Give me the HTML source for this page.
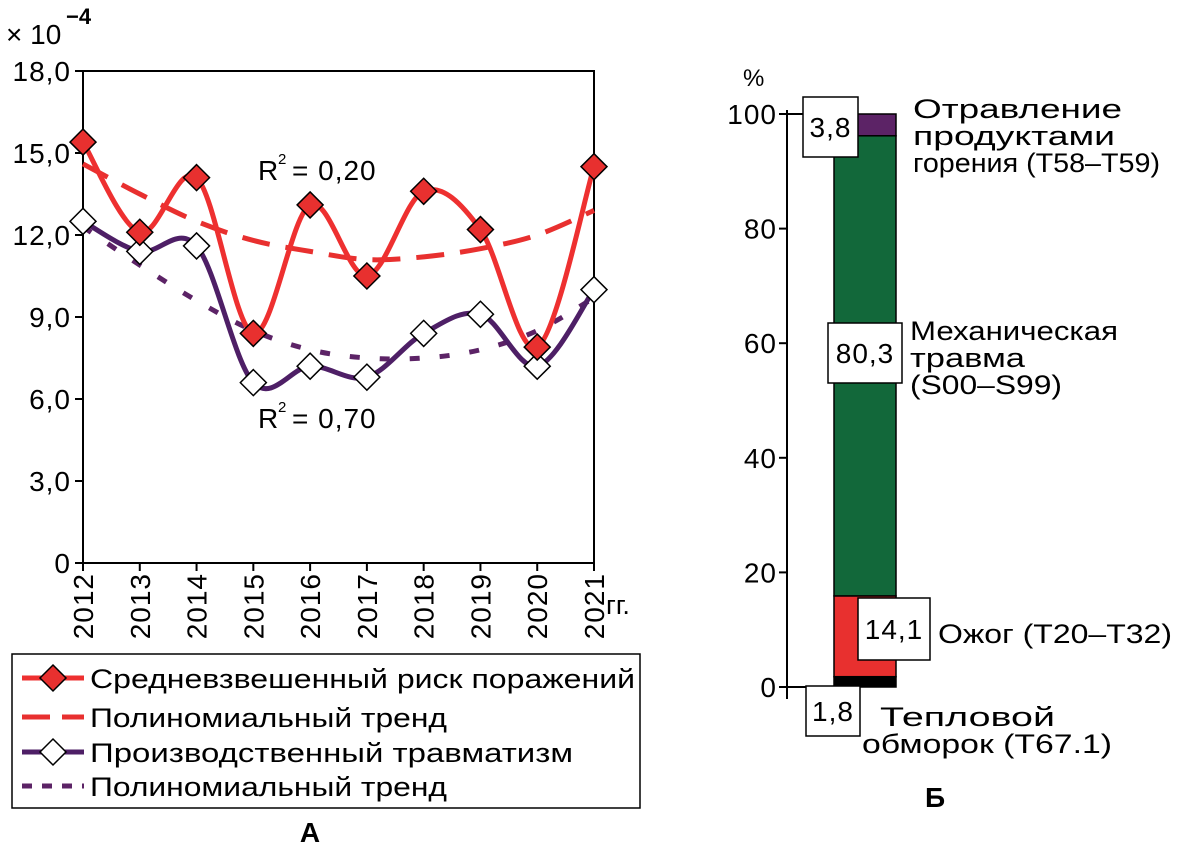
<!DOCTYPE html>
<html><head><meta charset="utf-8"><style>
body{margin:0;background:#fff;}
svg{font-family:"Liberation Sans",Arial,sans-serif;}
</style></head><body>
<svg width="1182" height="852" viewBox="0 0 1182 852">
<g id="left"></g>
<g id="right"></g>
</svg>
<script>
const years=["2012","2013","2014","2015","2016","2017","2018","2019","2020","2021"];
const riskValues=[15.4,12.1,14.1,8.4,13.1,10.5,13.6,12.2,7.9,14.5];
const riskTrend=[14.6,13.5,12.5,11.8,11.4,11.1,11.2,11.5,12.0,12.9];
const injuryValues=[12.5,11.4,11.6,6.6,7.2,6.8,8.4,9.1,7.2,10.0];
const injuryTrend=[12.3,10.9,9.6,8.5,7.8,7.5,7.5,7.8,8.5,9.7];
const yTicks=[0,3,6,9,12,15,18];
const yTickLabels=["0","3,0","6,0","9,0","12,0","15,0","18,0"];
const barShares=[1.8,14.1,80.3,3.8];
const barColors=["#000000","#e8302f","#12683a","#5c2366"];
const barTicks=[0,20,40,60,80,100];

const NS="http://www.w3.org/2000/svg";
function mk(parent,tag,attrs,text){const e=document.createElementNS(NS,tag);for(const k in attrs)e.setAttribute(k,attrs[k]);if(text!==undefined)e.textContent=text;parent.appendChild(e);return e;}

const L=document.getElementById('left');
const x0=83,x1=594,yb=563,yt=71;
const X=i=>x0+(x1-x0)*i/(years.length-1);
const Y=v=>yb-(yb-yt)*v/18;
let e=mk(L,'rect',{x:x0,y:yt,width:x1-x0,height:yb-yt,fill:'none',stroke:'#000','stroke-width':2});

yTicks.forEach((t,i)=>{
 let l=mk(L,'line',{x1:x0-8,x2:x0,y1:Y(t),y2:Y(t),stroke:'#000','stroke-width':2});
 
 let tx=mk(L,'text',{x:x0-12,y:Y(t)+10,'font-size':28,'letter-spacing':1,'text-anchor':'end'},yTickLabels[i]);
 
});
years.forEach((yr,i)=>{
 let l=mk(L,'line',{x1:X(i),x2:X(i),y1:yb,y2:yb+8,stroke:'#000','stroke-width':2});
 
 let tx=mk(L,'text',{x:0,y:0,'font-size':28,'letter-spacing':1,'text-anchor':'end',transform:`translate(${X(i)+10},${yb+10}) rotate(-90)`},yr);
 
});
e=mk(L,'text',{x:606,y:614,'font-size':27},'гг.');
e=mk(L,'text',{x:6,y:44,'font-size':28},'× 10');
e=mk(L,'text',{x:66,y:24,'font-size':22,'font-weight':'bold'},'−4');

function smooth(vals){
 const p=vals.map((v,i)=>[X(i),Y(v)]);
 let d=`M${p[0][0]},${p[0][1]}`;
 for(let i=0;i<p.length-1;i++){
  const a=p[i-1]||p[i],b=p[i],c=p[i+1],dd=p[i+2]||c;
  d+=` C${b[0]+(c[0]-a[0])/6},${b[1]+(c[1]-a[1])/6} ${c[0]-(dd[0]-b[0])/6},${c[1]-(dd[1]-b[1])/6} ${c[0]},${c[1]}`;
 }
 return d;
}
e=mk(L,'path',{d:smooth(injuryTrend),fill:'none',stroke:'#5c2366','stroke-width':5,'stroke-dasharray':'10 20'});

e=mk(L,'path',{d:smooth(riskTrend),fill:'none',stroke:'#e8302f','stroke-width':5,'stroke-dasharray':'28 16'});

e=mk(L,'path',{d:smooth(injuryValues),fill:'none',stroke:'#4e1f66','stroke-width':5});

e=mk(L,'path',{d:smooth(riskValues),fill:'none',stroke:'#ee3030','stroke-width':5});

function diamond(g,cx,cy,fill,s){return mk(g,'path',{d:`M${cx},${cy-s} L${cx+s},${cy} L${cx},${cy+s} L${cx-s},${cy} Z`,fill:fill,stroke:'#000','stroke-width':1.5});}
injuryValues.forEach((v,i)=>{let m=diamond(L,X(i),Y(v),'#fff',13);});
riskValues.forEach((v,i)=>{let m=diamond(L,X(i),Y(v),'#e8302f',13);});
e=mk(L,'text',{x:258,y:180,'font-size':28},'R');
mk(L,'text',{x:278,y:164,'font-size':15},'2');
mk(L,'text',{x:292,y:180,'font-size':28,'letter-spacing':1},'= 0,20');
e=mk(L,'text',{x:258,y:428,'font-size':28},'R');
mk(L,'text',{x:278,y:412,'font-size':15},'2');
mk(L,'text',{x:292,y:428,'font-size':28,'letter-spacing':1},'= 0,70');

e=mk(L,'rect',{x:12,y:654,width:628,height:154,fill:'#fff',stroke:'#000','stroke-width':1.5});

const leg=[["Средневзвешенный риск поражений",'#ee3030','',true,'#e8302f',545],["Полиномиальный тренд",'#e8302f','28 12',false,'',357],["Производственный травматизм",'#4e1f66','',true,'#fff',483],["Полиномиальный тренд",'#5c2366','10 10',false,'',357]];
const legY=[678,717,752,786];
leg.forEach((it,i)=>{
 let g=mk(L,'g',{});
 mk(g,'line',{x1:22,x2:84,y1:legY[i],y2:legY[i],stroke:it[1],'stroke-width':5,'stroke-dasharray':it[2]||'none'});
 if(it[3])diamond(g,53,legY[i],it[4],13);
 mk(g,'text',{x:90,y:legY[i]+10,'font-size':27,textLength:it[5],lengthAdjust:'spacingAndGlyphs'},it[0]);
});
e=mk(L,'text',{x:310,y:842,'font-size':28,'font-weight':'bold','text-anchor':'middle'},'А');


const R=document.getElementById('right');
const ax=787,b0=687,b100=114,bx0=834,bx1=896;
const BY=v=>b0-(b0-b100)*v/100;
e=mk(R,'line',{x1:ax,x2:ax,y1:b100-4,y2:b0+12,stroke:'#000','stroke-width':2});
barTicks.forEach(t=>{
 let l=mk(R,'line',{x1:ax-8,x2:ax+(t===0||t===100?20:0),y1:BY(t),y2:BY(t),stroke:'#000','stroke-width':2});
 
 let tx=mk(R,'text',{x:ax-10,y:BY(t)+10,'font-size':28,'letter-spacing':1,'text-anchor':'end'},String(t));
 
});
e=mk(R,'text',{x:743,y:86,'font-size':24},'%');
let cum=0;
const segNames=['heat-segment','burn-segment','mechanical-segment','poisoning-segment'];
barShares.forEach((v,i)=>{
 let r=mk(R,'rect',{x:bx0,y:BY(cum+v),width:bx1-bx0,height:BY(cum)-BY(cum+v),fill:barColors[i],stroke:'#000','stroke-width':1.5});
 
 cum+=v;
});
function box(x,y,w,h,txt,name){
 let g=mk(R,'g',{});
 mk(g,'rect',{x:x,y:y,width:w,height:h,fill:'#fff',stroke:'#000','stroke-width':1.5});
 mk(g,'text',{x:x+w/2,y:y+h/2+10,'font-size':28,'letter-spacing':1,'text-anchor':'middle'},txt);
}
box(803,97,55,60,'3,8','value-box-poisoning');
box(828,323,74,60,'80,3','value-box-mechanical');
box(858,598,72,62,'14,1','value-box-burn');
box(806,686,54,50,'1,8','value-box-heat');
function lbl(lines,name){
 let g=mk(R,'g',{});
 lines.forEach(s=>{mk(g,'text',{x:s[1],y:s[2],'font-size':27,textLength:s[3],lengthAdjust:'spacingAndGlyphs'},s[0]);});
}
lbl([["Отравление",913,118,209],["продуктами",913,145,202],["горения (T58–T59)",913,172,247]],'label-poisoning');
lbl([["Механическая",910,340,208],["травма",910,367,115],["(S00–S99)",910,394,152]],'label-mechanical');
lbl([["Ожог (T20–T32)",938,643,234]],'label-burn');
lbl([["Тепловой",880,726,175],["обморок (T67.1)",862,753,250]],'label-heat');
e=mk(R,'text',{x:935,y:807,'font-size':28,'font-weight':'bold','text-anchor':'middle'},'Б');

</script>
</body></html>
